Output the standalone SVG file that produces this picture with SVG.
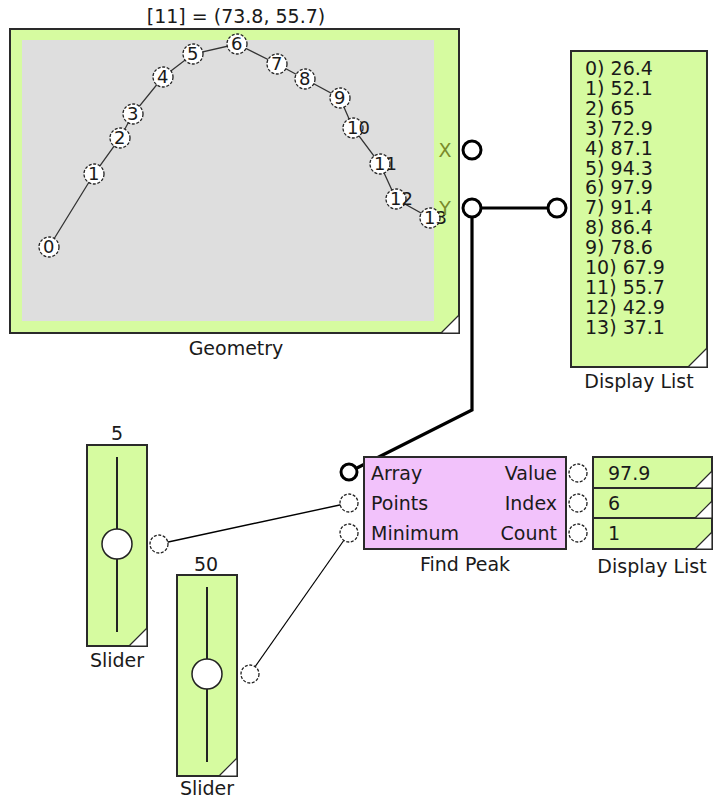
<svg xmlns="http://www.w3.org/2000/svg" width="714" height="802" viewBox="0 0 714 802">
<style>
text{font-family:"DejaVu Sans","Verdana",sans-serif;font-size:19px;fill:#1a1a1a}
.lbl{text-anchor:middle}
.box{fill:#d6fba0;stroke:#2a2a2a;stroke-width:2}
.tri{fill:#fff;stroke:#2a2a2a;stroke-width:1.2}
.pt{fill:#fff;stroke:#222;stroke-width:1.3;stroke-dasharray:3 1.6}
.pl{font-size:18px}
.pth{fill:#fff;stroke:#000;stroke-width:3}
.ptn{fill:#fff;stroke:#222;stroke-width:1.3;stroke-dasharray:3 1.6}
.knob{fill:#fff;stroke:#222;stroke-width:1.5}
.track{stroke:#222;stroke-width:2}
</style>
<rect width="714" height="802" fill="#fff"/>
<g id="connectors" fill="none" stroke="#000">
<polyline points="472,208 472,410 349,472" stroke-width="3.2"/>
<line x1="472" y1="208" x2="557" y2="208" stroke-width="3.2"/>
<line x1="159" y1="544" x2="349" y2="503" stroke-width="1.4"/>
<line x1="250" y1="674" x2="349" y2="533" stroke-width="1.2"/>
</g>
<g id="geometry">
<text class="lbl" x="236" y="23">[11] = (73.8, 55.7)</text>
<rect class="box" x="10" y="29" width="449" height="304"/>
<rect x="22" y="40" width="412" height="281" fill="#dedede"/>
<polygon class="tri" points="459,315 459,333 441,333"/>
<polyline points="49,247 94,174 120,138 133,114 163,77 193,54 237,44 277,64 305,79 340,98 353,128 380,164 396,199 430,218" fill="none" stroke="#333" stroke-width="1.3"/>
<g>
<circle class="pt" cx="49" cy="247" r="10"/><text class="pl" x="43" y="253">0</text>
<circle class="pt" cx="94" cy="174" r="10"/><text class="pl" x="88" y="180">1</text>
<circle class="pt" cx="120" cy="138" r="10"/><text class="pl" x="114" y="144">2</text>
<circle class="pt" cx="133" cy="114" r="10"/><text class="pl" x="127" y="120">3</text>
<circle class="pt" cx="163" cy="77" r="10"/><text class="pl" x="157" y="83">4</text>
<circle class="pt" cx="193" cy="54" r="10"/><text class="pl" x="187" y="60">5</text>
<circle class="pt" cx="237" cy="44" r="10"/><text class="pl" x="231" y="50">6</text>
<circle class="pt" cx="277" cy="64" r="10"/><text class="pl" x="271" y="70">7</text>
<circle class="pt" cx="305" cy="79" r="10"/><text class="pl" x="299" y="85">8</text>
<circle class="pt" cx="340" cy="98" r="10"/><text class="pl" x="334" y="104">9</text>
<circle class="pt" cx="353" cy="128" r="10"/><text class="pl" x="347" y="134">10</text>
<circle class="pt" cx="380" cy="164" r="10"/><text class="pl" x="374" y="170">11</text>
<circle class="pt" cx="396" cy="199" r="10"/><text class="pl" x="390" y="205">12</text>
<circle class="pt" cx="430" cy="218" r="10"/><text class="pl" x="424" y="224">13</text>
</g>
<text x="445" y="157" class="lbl" style="fill:#7a8a2a">X</text>
<text x="445" y="215" class="lbl" style="fill:#7a8a2a">Y</text>
<circle class="pth" cx="472" cy="150" r="9"/>
<circle class="pth" cx="472" cy="208" r="9"/>
<text class="lbl" x="236" y="355">Geometry</text>
</g>
<g id="display-list-1">
<circle class="pth" cx="557" cy="208" r="9"/>
<rect class="box" x="571" y="51" width="136" height="316"/>
<polygon class="tri" points="707,348 707,367 688,367"/>
<g style="font-size:20px">
<text x="585" y="75">0) 26.4</text>
<text x="585" y="95">1) 52.1</text>
<text x="585" y="115">2) 65</text>
<text x="585" y="135">3) 72.9</text>
<text x="585" y="155">4) 87.1</text>
<text x="585" y="175">5) 94.3</text>
<text x="585" y="194">6) 97.9</text>
<text x="585" y="214">7) 91.4</text>
<text x="585" y="234">8) 86.4</text>
<text x="585" y="254">9) 78.6</text>
<text x="585" y="274">10) 67.9</text>
<text x="585" y="294">11) 55.7</text>
<text x="585" y="314">12) 42.9</text>
<text x="585" y="334">13) 37.1</text>
</g>
<text class="lbl" x="639" y="388">Display List</text>
</g>
<g id="find-peak">
<rect x="364" y="457" width="202" height="92" fill="#f2c2fb" stroke="#2a2a2a" stroke-width="2"/>
<circle class="pth" cx="349" cy="472" r="8"/>
<circle class="ptn" cx="349" cy="503" r="9"/>
<circle class="ptn" cx="349" cy="533" r="9"/>
<circle class="ptn" cx="578" cy="473" r="9"/>
<circle class="ptn" cx="578" cy="503" r="9"/>
<circle class="ptn" cx="578" cy="533" r="9"/>
<text x="371" y="480">Array</text>
<text x="371" y="510">Points</text>
<text x="371" y="540">Minimum</text>
<text x="557" y="480" text-anchor="end">Value</text>
<text x="557" y="510" text-anchor="end">Index</text>
<text x="557" y="540" text-anchor="end">Count</text>
<text class="lbl" x="465" y="571">Find Peak</text>
</g>
<g id="display-list-2">
<rect class="box" x="593" y="457" width="119" height="31"/>
<rect class="box" x="593" y="488" width="119" height="30"/>
<rect class="box" x="593" y="518" width="119" height="31"/>
<polygon class="tri" points="712,471 712,488 695,488"/>
<polygon class="tri" points="712,501 712,518 695,518"/>
<polygon class="tri" points="712,532 712,549 695,549"/>
<text x="608" y="480">97.9</text>
<text x="608" y="510">6</text>
<text x="608" y="540">1</text>
<text class="lbl" x="652" y="573">Display List</text>
</g>
<g id="slider-1">
<text class="lbl" x="117" y="440">5</text>
<rect class="box" x="87" y="445" width="60" height="201"/>
<polygon class="tri" points="147,628 147,646 129,646"/>
<line class="track" x1="117" y1="457" x2="117" y2="632"/>
<circle class="knob" cx="117" cy="544" r="15"/>
<circle class="ptn" cx="159" cy="544" r="9"/>
<text class="lbl" x="117" y="667">Slider</text>
</g>
<g id="slider-2">
<text class="lbl" x="206" y="571">50</text>
<rect class="box" x="177" y="575" width="60" height="201"/>
<polygon class="tri" points="237,758 237,776 219,776"/>
<line class="track" x1="207" y1="587" x2="207" y2="762"/>
<circle class="knob" cx="207" cy="674" r="15"/>
<circle class="ptn" cx="250" cy="674" r="9"/>
<text class="lbl" x="207" y="795">Slider</text>
</g>
</svg>
